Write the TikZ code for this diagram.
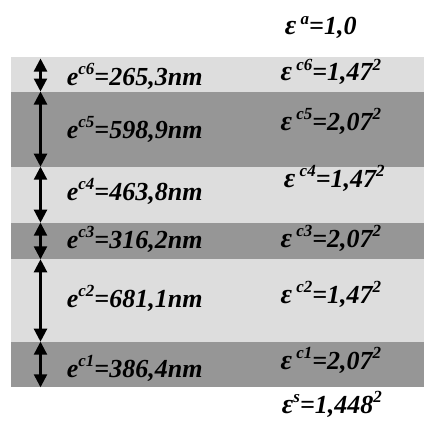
\documentclass[tikz,border=0pt]{standalone}
\usepackage{fontspec}
\setmainfont{Liberation Serif}
\usetikzlibrary{arrows.meta}
\definecolor{lightband}{RGB}{221,221,221}
\definecolor{darkband}{RGB}{150,150,150}
\newcommand{\supx}[1]{\raisebox{0.42em}{\fontsize{17}{18}\selectfont #1}}
\newcommand{\epsx}{{\fontsize{28}{29}\selectfont ε}}
\tikzset{
  lbl/.style={anchor=base west, inner sep=0pt, font=\fontsize{26}{27}\selectfont\bfseries\itshape},
  dimarrow/.style={line width=2.3pt, {Triangle[length=13pt,width=13pt]}-{Triangle[length=13pt,width=13pt]}}
}
\begin{document}
\begin{tikzpicture}[x=1pt,y=-1pt]
\useasboundingbox (0,0) rectangle (424,436);
% bands
\fill[lightband] (10.7,57.5) rectangle (424,91.5);
\fill[darkband]  (10.7,91.5) rectangle (424,166.7);
\fill[lightband] (10.7,166.7) rectangle (424,222.7);
\fill[darkband]  (10.7,222.7) rectangle (424,259.3);
\fill[lightband] (10.7,259.3) rectangle (424,341.7);
\fill[darkband]  (10.7,341.7) rectangle (424,386.7);
% boundaries for arrows
\coordinate (b0) at (40.5,58.5);
\coordinate (b1) at (40.5,91.5);
\coordinate (b2) at (40.5,166.7);
\coordinate (b3) at (40.5,222.7);
\coordinate (b4) at (40.5,259.3);
\coordinate (b5) at (40.5,341.7);
\coordinate (b6) at (40.5,387.3);
\draw[dimarrow] (b0) -- (b1);
\draw[dimarrow] (b1) -- (b2);
\draw[dimarrow] (b2) -- (b3);
\draw[dimarrow] (b3) -- (b4);
\draw[dimarrow] (b4) -- (b5);
\draw[dimarrow] (b5) -- (b6);
% thickness labels
\node[lbl] (t6) at (66.7,85)  {e\supx{c6}=265,3nm};
\node[lbl] (t5) at (66.7,138) {e\supx{c5}=598,9nm};
\node[lbl] (t4) at (66.7,200) {e\supx{c4}=463,8nm};
\node[lbl] (t3) at (66.7,248) {e\supx{c3}=316,2nm};
\node[lbl] (t2) at (66.7,307) {e\supx{c2}=681,1nm};
\node[lbl] (t1) at (66.7,377) {e\supx{c1}=386,4nm};
% permittivity labels
\node[lbl] (pa) at (284.7,35)  {\epsx\,\supx{a}=1,0};
\node[lbl] (p6) at (280.3,81)  {\epsx\,\supx{c6}=1,47\supx{2}};
\node[lbl] (p5) at (280.3,130) {\epsx\,\supx{c5}=2,07\supx{2}};
\node[lbl] (p4) at (283.7,187) {\epsx\,\supx{c4}=1,47\supx{2}};
\node[lbl] (p3) at (280.3,247) {\epsx\,\supx{c3}=2,07\supx{2}};
\node[lbl] (p2) at (280.3,303) {\epsx\,\supx{c2}=1,47\supx{2}};
\node[lbl] (p1) at (280.3,369) {\epsx\,\supx{c1}=2,07\supx{2}};
\node[lbl] (ps) at (281.7,413) {\epsx\supx{s}=1,448\supx{2}};
\end{tikzpicture}
\end{document}
